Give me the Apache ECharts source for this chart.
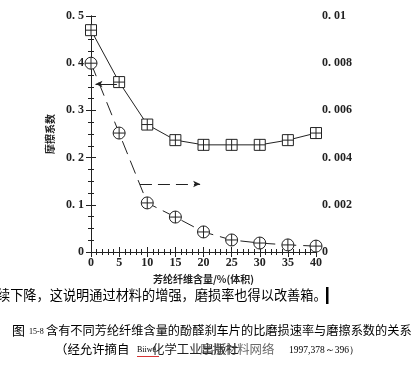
<!DOCTYPE html>
<html><head><meta charset="utf-8">
<script src="https://cdn.jsdelivr.net/npm/echarts@6/dist/echarts.min.js"></script>
<style>html,body{margin:0;padding:0;background:#fff}#c{width:415px;height:366px}</style>
</head><body><div id="c"></div>
<script>
const fiberContent = [0, 5, 10, 15, 20, 25, 30, 35, 40];
const frictionCoef = [0.47, 0.36, 0.27, 0.237, 0.227, 0.227, 0.227, 0.237, 0.252];
const wearRate = [0.008, 0.00504, 0.00208, 0.00148, 0.00085, 0.00051, 0.00038, 0.0003, 0.00025];
const leftTicks = ['0', '0. 1', '0. 2', '0. 3', '0. 4', '0. 5'];
const rightTicks = ['0', '0. 002', '0. 004', '0. 006', '0. 008', '0. 01'];
const xTicks = ['0', '5', '10', '15', '20', '25', '30', '35', '40'];
const frictionArrow = [[0.8, 0.356], [4.6, 0.356]];
const wearArrow = [[8.7, 0.00288], [19.4, 0.00288]];

const ink = '#222';
const serif = '"Liberation Serif", "DejaVu Serif", serif';
const cjk = '"Noto Sans CJK SC", sans-serif';
const sqPath = 'path://M0,0H10V10H0Z M5,0V10 M0,5H10';
const cirPath = 'path://M10,5A5,5 0 1 1 0,5A5,5 0 1 1 10,5Z M5,0V10 M0,5H10';

const chart = echarts.init(document.getElementById('c'), null, {renderer: 'canvas'});
const axLine = {show: true, lineStyle: {color: ink, width: 1}};
const tickStyle = {show: true, inside: true, length: 5, lineStyle: {color: ink}};
const minorStyle = (n) => ({show: true, splitNumber: n, length: 3, lineStyle: {color: ink}});
chart.setOption({
  backgroundColor: '#fff',
  animation: false,
  grid: {left: 91, right: 99, top: 16, bottom: 114, containLabel: false},
  xAxis: [{
    type: 'value', min: 0, max: 40, interval: 5, position: 'bottom',
    axisLine: axLine, axisTick: tickStyle, minorTick: minorStyle(5), splitLine: {show: false},
    axisLabel: {color: ink, fontFamily: serif, fontWeight: 'bold', fontSize: 12, margin: 5,
      formatter: (v) => xTicks[Math.round(v / 5)]},
    name: '芳纶纤维含量/%(体积)', nameLocation: 'middle', nameGap: 16,
    nameTextStyle: {color: ink, fontFamily: cjk, fontSize: 10, fontWeight: 'bold'}
  }, {
    type: 'value', min: 0, max: 40, interval: 5, position: 'top',
    axisLine: axLine, axisTick: tickStyle, minorTick: minorStyle(5), splitLine: {show: false},
    axisLabel: {show: false}
  }],
  yAxis: [{
    type: 'value', min: 0, max: 0.5, interval: 0.1, position: 'left',
    axisLine: axLine, axisTick: tickStyle, minorTick: minorStyle(4), splitLine: {show: false},
    axisLabel: {color: ink, fontFamily: serif, fontWeight: 'bold', fontSize: 12, margin: 7,
      formatter: (v) => leftTicks[Math.round(v * 10)]},
    name: '摩擦系数', nameLocation: 'middle', nameGap: 35, nameRotate: 90,
    nameTextStyle: {color: ink, fontFamily: cjk, fontSize: 10, fontWeight: 'bold'}
  }, {
    type: 'value', min: 0, max: 0.01, interval: 0.002, position: 'right',
    axisLine: axLine, axisTick: tickStyle, minorTick: minorStyle(4), splitLine: {show: false},
    axisLabel: {color: ink, fontFamily: serif, fontWeight: 'bold', fontSize: 12, margin: 6,
      formatter: (v) => rightTicks[Math.round(v * 500)]}
  }],
  series: [{
    type: 'line', xAxisIndex: 0, yAxisIndex: 0,
    data: fiberContent.map((x, i) => [x, frictionCoef[i]]),
    symbol: sqPath, symbolSize: 11, symbolKeepAspect: true,
    lineStyle: {color: ink, width: 1},
    itemStyle: {color: '#fff', borderColor: ink, borderWidth: 1},
    z: 3,
    markLine: {silent: true, symbol: ['arrow', 'none'], symbolSize: [5, 7],
      label: {show: false}, lineStyle: {color: ink, width: 1, type: 'solid'},
      data: [[{coord: frictionArrow[0]}, {coord: frictionArrow[1]}]]}
  }, {
    type: 'line', xAxisIndex: 0, yAxisIndex: 1,
    data: fiberContent.map((x, i) => [x, wearRate[i]]),
    symbol: cirPath, symbolSize: 12, symbolKeepAspect: true,
    lineStyle: {color: ink, width: 1, type: [14, 7]},
    itemStyle: {color: '#fff', borderColor: ink, borderWidth: 1},
    z: 3,
    markLine: {silent: true, symbol: ['none', 'arrow'], symbolSize: [5, 7],
      label: {show: false}, lineStyle: {color: ink, width: 1, type: [12, 6]},
      data: [[{coord: wearArrow[0]}, {coord: wearArrow[1]}]]}
  }],
  graphic: [
    {type: 'text', left: -3, top: 288, style: {text: '续下降，这说明通过材料的增强，磨损率也得以改善箱。', font: '13.2px ' + cjk, fill: '#000'}},
    {type: 'rect', shape: {x: 326, y: 287, width: 2.5, height: 17}, style: {fill: '#000'}},
    {type: 'text', left: 12, top: 324, style: {text: '图', font: '13px ' + cjk, fill: '#000'}},
    {type: 'text', left: 29, top: 328, style: {text: '15-8', font: '8px ' + serif, fill: '#000'}},
    {type: 'text', left: 46, top: 324, style: {text: '含有不同芳纶纤维含量的酚醛刹车片的比磨损速率与磨擦系数的关系', font: '12.2px ' + cjk, fill: '#000'}},
    {type: 'text', left: 55, top: 343, style: {text: '（经允许摘自', font: '12.4px ' + cjk, fill: '#000'}},
    {type: 'text', left: 137, top: 346, style: {text: 'Biiwe', font: '8px ' + serif, fill: '#000'}},
    {type: 'rect', shape: {x: 137, y: 356, width: 22, height: 0.8}, style: {fill: '#c00'}},
    {type: 'text', left: 152, top: 343, style: {text: '化学工业出版社', font: '12.4px ' + cjk, fill: '#222'}},
    {type: 'text', left: 200, top: 343, style: {text: '摩擦材料网络', font: '12.4px ' + cjk, fill: '#444', opacity: 0.8}},
    {type: 'text', left: 289, top: 345, style: {text: '1997,378～396）', font: '9.5px ' + serif, fill: '#000'}}
  ]
});
</script></body></html>
